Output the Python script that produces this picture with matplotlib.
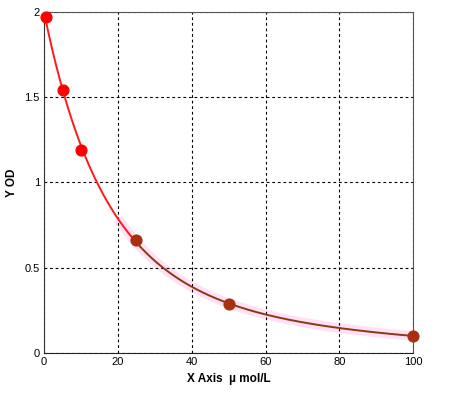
import numpy as np
import matplotlib
matplotlib.use("Agg")
import matplotlib.pyplot as plt

plt.rcParams['font.family'] = ['Liberation Sans', 'DejaVu Sans']

# standard points
conc = [0.5, 5, 10, 25, 50, 100]
od = [1.97, 1.54, 1.19, 0.66, 0.29, 0.10]

# fitted curve from the points (cubic on log OD)
coef = np.polyfit(conc, np.log(od), 3)
xs = np.linspace(0, 100, 400)
ys = np.exp(np.polyval(coef, xs))

fig = plt.figure(figsize=(4.5, 3.98), dpi=100)
ax = fig.add_axes([0.098, 0.113, 0.82, 0.857])

# pink glow under the lower part of the curve
m = xs >= 20
ax.plot(xs[m], ys[m], color="#ffe0f6", lw=7, solid_capstyle="butt", zorder=1)
ax.plot(xs[xs <= 25], ys[xs <= 25], color="#ff1a1a", lw=1.4, zorder=2)
ax.plot(xs[xs >= 24], ys[xs >= 24], color="#8a3a10", lw=1.4, zorder=2)

ax.scatter(conc[:3], od[:3], s=60, color="#ff0000", zorder=3, clip_on=False)
ax.scatter(conc[3:], od[3:], s=60, color="#a8300c", zorder=3, clip_on=False)

ax.set_xlim(0, 100)
ax.set_ylim(0, 2)
ax.set_xticks([0, 20, 40, 60, 80, 100])
ax.set_yticks([0, 0.5, 1, 1.5, 2])
ax.set_yticklabels(["0", "0.5", "1", "1.5", "2"])
ax.tick_params(length=0, labelsize=8, pad=3)
ax.grid(True, color="black", linestyle=(0, (2.5, 2.5)), lw=0.8)
for s in ax.spines.values():
    s.set_color("#555555")
ax.spines["left"].set_color("#333333")
ax.spines["bottom"].set_color("#222222")

ax.set_xlabel("X Axis  \u00b5 mol/L", fontsize=8.5, fontweight="bold", labelpad=4)
ax.set_ylabel("Y OD", fontsize=8.5, fontweight="bold")
ax.yaxis.set_label_coords(-0.072, 0.5)

fig.savefig("out.png", dpi=100)
